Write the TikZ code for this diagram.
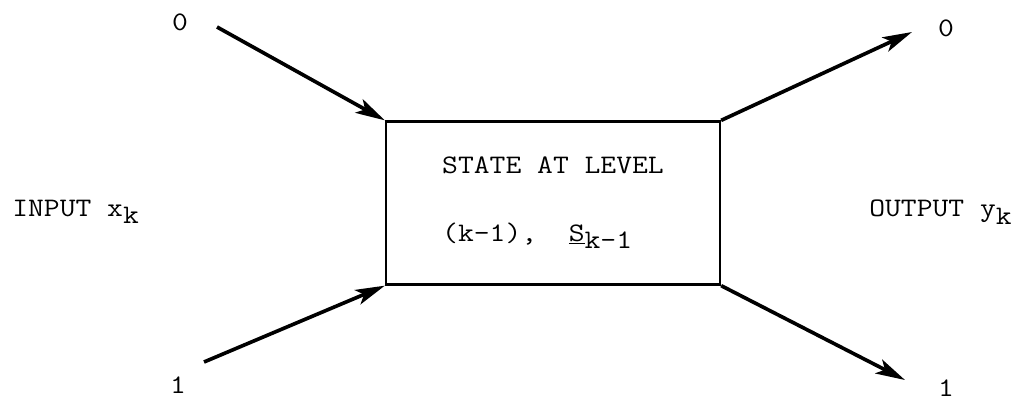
\documentclass[tikz,border=0pt]{standalone}
\usepackage{fontspec}
\setmonofont{Latin Modern Mono}[FakeStretch=1.15]
\usetikzlibrary{arrows.meta,positioning,calc}
\tikzset{
  flow/.style={line width=2.6pt,-{Stealth[length=21pt,width=11pt,inset=5pt]}},
  statebox/.style={draw,line width=1.6pt,minimum width=8.35cm,minimum height=4.075cm,
    align=left,font=\fontsize{19}{48}\selectfont\ttfamily},
  lbl/.style={font=\fontsize{19}{22}\selectfont\ttfamily,inner sep=0pt}
}
\newcommand{\lowsub}[1]{\raisebox{-0.65ex}{#1}}

\begin{document}
\begin{tikzpicture}[x=0.025cm,y=-0.025cm]
    \useasboundingbox (0,0) rectangle (1023,403);
    \node[statebox] (state) at (553,203) {STATE AT LEVEL\\(k-1),\ \ \underline{S}\lowsub{k-1}};
    % inputs
    \coordinate (in0) at (217,27);
    \coordinate (in1) at (204,362);
    \node[lbl] (in0lbl) at (180,22) {0};
    \node[lbl] (in1lbl) at (178,385) {1};
    \node[lbl,anchor=west] (inlbl) at (12,212) {INPUT x\lowsub{k}};
    \draw[flow] (in0) -- (state.north west);
    \draw[flow] (in1) -- (state.south west);
    % outputs
    \coordinate (out0) at (912,32);
    \coordinate (out1) at (905,380);
    \node[lbl] (out0lbl) at (946,28) {0};
    \node[lbl] (out1lbl) at (946,388) {1};
    \node[lbl,anchor=west] (outlbl) at (869,212) {OUTPUT y\lowsub{k}};
    \draw[flow] (state.north east) -- (out0);
    \draw[flow] (state.south east) -- (out1);
  \end{tikzpicture}
\end{document}
